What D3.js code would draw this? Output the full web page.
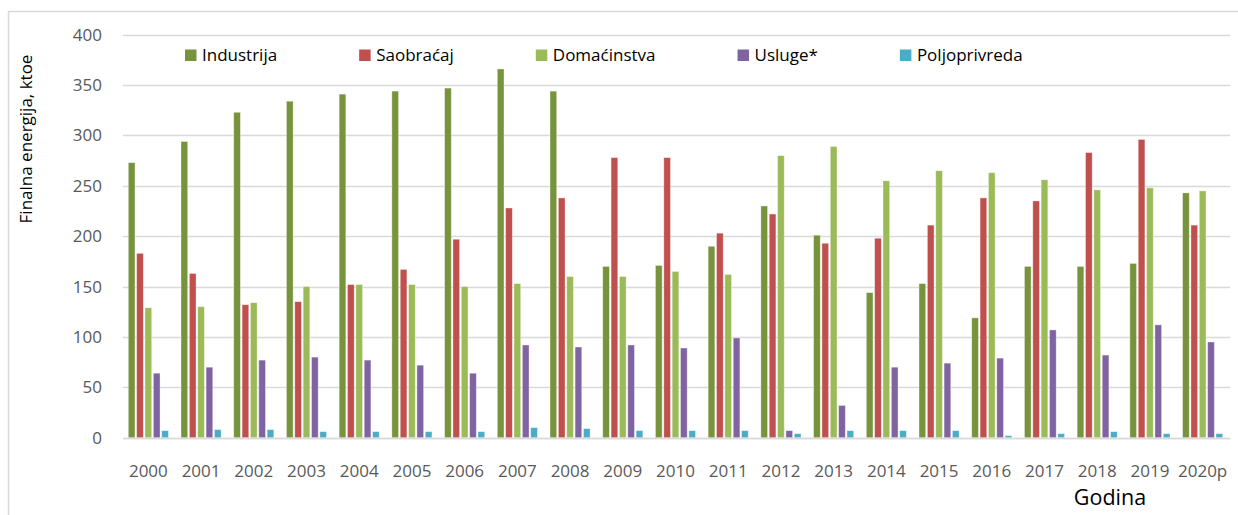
<!DOCTYPE html>
<html>
<head>
<meta charset="utf-8">
<script src="https://cdn.jsdelivr.net/npm/d3@7"></script>
<style>
  html, body { margin: 0; padding: 0; background: #fff; }
  svg { display: block; font-family: "Open Sans", sans-serif; }
</style>
</head>
<body>
<svg id="chart" width="1238" height="515"></svg>
<script>
// Final energy consumption by sector, ktoe
const years = ["2000","2001","2002","2003","2004","2005","2006","2007","2008","2009",
               "2010","2011","2012","2013","2014","2015","2016","2017","2018","2019","2020p"];
const seriesNames = ["Industrija", "Saobraćaj", "Domaćinstva", "Usluge*", "Poljoprivreda"];
const industrija    = [273, 294, 323, 334, 341, 344, 347, 366, 344, 170, 171, 190, 230, 201, 144, 153, 119, 170, 170, 173, 243];
const saobracaj     = [183, 163, 132, 135, 152, 167, 197, 228, 238, 278, 278, 203, 222, 193, 198, 211, 238, 235, 283, 296, 211];
const domacinstva   = [129, 130, 134, 150, 152, 152, 150, 153, 160, 160, 165, 162, 280, 289, 255, 265, 263, 256, 246, 248, 245];
const usluge        = [64, 70, 77, 80, 77, 72, 64, 92, 90, 92, 89, 99, 7, 32, 70, 74, 79, 107, 82, 112, 95];
const poljoprivreda = [7, 8, 8, 6, 6, 6, 6, 10, 9, 7, 7, 7, 4, 7, 7, 7, 2, 4, 6, 4, 4];
const seriesValues = [industrija, saobracaj, domacinstva, usluge, poljoprivreda];
const colors = ["#77933C", "#C0504D", "#9BBB59", "#8064A2", "#4BACC6"];
const yTicks = [0, 50, 100, 150, 200, 250, 300, 350, 400];

const svg = d3.select("#chart");

// outer chart frame
svg.append("rect")
  .attr("x", 8.5).attr("y", 11.5)
  .attr("width", 1240).attr("height", 520)
  .attr("fill", "none").attr("stroke", "#d9d9d9").attr("stroke-width", 1.5);

const plotLeft = 123, plotRight = 1230;
const y = d3.scaleLinear().domain([0, 400]).range([437.7, 34.7]);
const x0 = d3.scaleBand().domain(years).range([plotLeft, plotRight]).padding(0);
const x1 = d3.scaleBand().domain(seriesNames).range([5.3, 45.4]).paddingInner(0.2).paddingOuter(0);

// horizontal gridlines
svg.append("g").selectAll("line").data(yTicks).join("line")
  .attr("x1", plotLeft).attr("x2", plotRight)
  .attr("y1", d => Math.round(y(d)) + 0.5).attr("y2", d => Math.round(y(d)) + 0.5)
  .attr("stroke", "#d9d9d9").attr("stroke-width", 1.3);

// y tick labels
svg.append("g").selectAll("text").data(yTicks).join("text")
  .attr("x", 102).attr("y", d => y(d))
  .attr("dy", "0.35em")
  .attr("text-anchor", "end")
  .attr("fill", "#595959")
  .attr("font-size", 17)
  .text(d => d);

// bars
const groups = svg.append("g").selectAll("g").data(years).join("g")
  .attr("transform", d => `translate(${x0(d)},0)`);
groups.selectAll("rect")
  .data((yr, i) => seriesNames.map((s, k) => ({ s, k, v: seriesValues[k][i] })))
  .join("rect")
  .attr("x", d => x1(d.s))
  .attr("y", d => y(d.v))
  .attr("width", x1.bandwidth())
  .attr("height", d => y(0) - y(d.v))
  .attr("fill", d => colors[d.k])
  .attr("stroke", "#ffffff").attr("stroke-opacity", 0.45).attr("stroke-width", 0.8);

// baseline
svg.append("line")
  .attr("x1", plotLeft).attr("x2", plotRight)
  .attr("y1", 438.5).attr("y2", 438.5)
  .attr("stroke", "#d9d9d9").attr("stroke-width", 1.5);

// x tick labels
svg.append("g").selectAll("text").data(years).join("text")
  .attr("x", d => x0(d) + x0.bandwidth() / 2 - 1)
  .attr("y", 477)
  .attr("text-anchor", "middle")
  .attr("fill", "#595959")
  .attr("font-size", 17)
  .text(d => d);

// axis titles
svg.append("text")
  .attr("transform", "translate(32,139) rotate(-90)")
  .attr("text-anchor", "middle")
  .attr("fill", "#000")
  .attr("font-size", 17)
  .text("Finalna energija, ktoe");

svg.append("text")
  .attr("x", 1110).attr("y", 505)
  .attr("text-anchor", "middle")
  .attr("fill", "#000")
  .attr("font-size", 21.5)
  .text("Godina");

// legend laid out left to right
const legend = svg.append("g");
let lx = 185;
seriesNames.forEach((name, k) => {
  legend.append("rect")
    .attr("x", lx).attr("y", 49.5)
    .attr("width", 11.5).attr("height", 11.5)
    .attr("fill", colors[k]);
  const t = legend.append("text")
    .attr("x", lx + 17).attr("y", 61)
    .attr("fill", "#000")
    .attr("font-size", 17)
    .text(name);
  lx += 17 + t.node().getComputedTextLength() + 82;
});
</script>
</body>
</html>
